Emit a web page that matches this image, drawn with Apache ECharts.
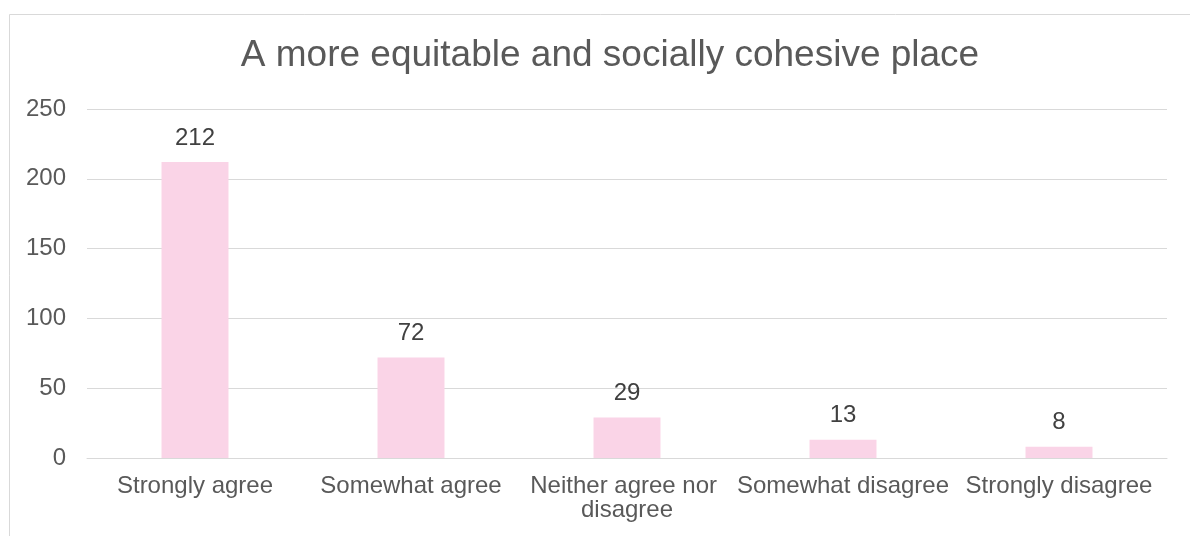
<!DOCTYPE html>
<html>
<head>
<meta charset="utf-8">
<script src="https://cdn.jsdelivr.net/npm/echarts@6/dist/echarts.min.js"></script>
<style>
html,body{margin:0;padding:0;background:#fff;}
#chart{width:1190px;height:536px;}
</style>
</head>
<body>
<div id="chart"></div>
<script>
var titleText = 'A more equitable and socially cohesive place';
var categories = ['Strongly agree', 'Somewhat agree', 'Neither agree nor disagree', 'Somewhat disagree', 'Strongly disagree'];
var values = [212, 72, 29, 13, 8];
var yTicks = [0, 50, 100, 150, 200, 250];

var chart = echarts.init(document.getElementById('chart'), null, {renderer: 'canvas'});
var font = '"Liberation Sans", Arial, sans-serif';
chart.setOption({
  animation: false,
  backgroundColor: '#ffffff',
  graphic: [{
    type: 'rect',
    shape: {x: 9.5, y: 14.5, width: 1200, height: 540},
    style: {fill: 'none', stroke: '#d9d9d9', lineWidth: 1},
    silent: true
  }],
  title: {
    text: titleText,
    left: 605,
    textAlign: 'center',
    top: 32,
    textStyle: {fontFamily: font, fontSize: 37, fontWeight: 'normal', color: '#595959'}
  },
  grid: {left: 87, right: 23, top: 109, bottom: 78, containLabel: false},
  xAxis: {
    type: 'category',
    data: categories,
    axisLine: {lineStyle: {color: '#d9d9d9', width: 1}},
    axisTick: {show: false},
    axisLabel: {
      fontFamily: font, fontSize: 24, color: '#595959', margin: 16,
      width: 214, overflow: 'break', lineHeight: 24, interval: 0
    }
  },
  yAxis: {
    type: 'value',
    min: yTicks[0],
    max: yTicks[yTicks.length - 1],
    interval: 50,
    axisLine: {show: false},
    axisTick: {show: false},
    splitLine: {lineStyle: {color: '#d9d9d9', width: 1}},
    axisLabel: {fontFamily: font, fontSize: 24, color: '#595959', margin: 21}
  },
  series: [{
    type: 'bar',
    data: values,
    barWidth: '31%',
    itemStyle: {color: '#fad4e7'},
    label: {
      show: true, position: 'top', distance: 12,
      fontFamily: font, fontSize: 24, color: '#404040'
    }
  }]
});
</script>
</body>
</html>
